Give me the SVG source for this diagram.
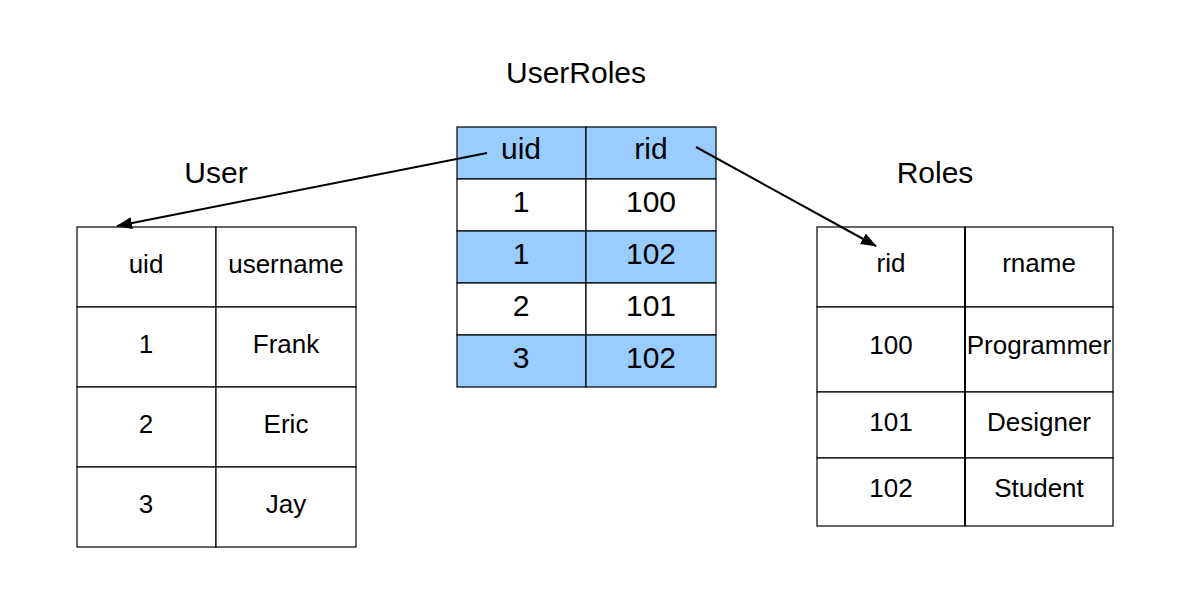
<svg xmlns="http://www.w3.org/2000/svg" width="1183" height="592" viewBox="0 0 1183 592">
<style>
text{font-family:"Liberation Sans",Arial,sans-serif;fill:#000;text-anchor:middle}
.t{font-size:30px}
.c{font-size:26px}
.m{font-size:30px}
.cell{fill:#fff;stroke:#000;stroke-width:1.2}
.hl{fill:#99ccff;stroke:#000;stroke-width:1.2}
.conn{stroke:#000;stroke-width:2;fill:none}
</style>
<defs>
<marker id="arr" markerWidth="16" markerHeight="12" refX="15" refY="6" orient="auto" markerUnits="userSpaceOnUse">
<path d="M0,0 L16,6 L0,12 Z" fill="#000"/>
</marker>
</defs>
<rect width="1183" height="592" fill="#fff"/>

<g id="userroles">
<text class="t" x="576" y="83">UserRoles</text>
<rect class="hl" x="457" y="127" width="129" height="52"/>
<rect class="hl" x="586" y="127" width="130" height="52"/>
<rect class="cell" x="457" y="179" width="129" height="52"/>
<rect class="cell" x="586" y="179" width="130" height="52"/>
<rect class="hl" x="457" y="231" width="129" height="52"/>
<rect class="hl" x="586" y="231" width="130" height="52"/>
<rect class="cell" x="457" y="283" width="129" height="52"/>
<rect class="cell" x="586" y="283" width="130" height="52"/>
<rect class="hl" x="457" y="335" width="129" height="52"/>
<rect class="hl" x="586" y="335" width="130" height="52"/>
<text class="m" x="521" y="159">uid</text>
<text class="m" x="651" y="159">rid</text>
<text class="m" x="521" y="212">1</text>
<text class="m" x="651" y="212">100</text>
<text class="m" x="521" y="264">1</text>
<text class="m" x="651" y="264">102</text>
<text class="m" x="521" y="316">2</text>
<text class="m" x="651" y="316">101</text>
<text class="m" x="521" y="368">3</text>
<text class="m" x="651" y="368">102</text>
</g>

<g id="user">
<text class="t" x="216" y="183">User</text>
<rect class="cell" x="77" y="227" width="139" height="80"/>
<rect class="cell" x="216" y="227" width="140" height="80"/>
<rect class="cell" x="77" y="307" width="139" height="80"/>
<rect class="cell" x="216" y="307" width="140" height="80"/>
<rect class="cell" x="77" y="387" width="139" height="80"/>
<rect class="cell" x="216" y="387" width="140" height="80"/>
<rect class="cell" x="77" y="467" width="139" height="80"/>
<rect class="cell" x="216" y="467" width="140" height="80"/>
<text class="c" x="146" y="273">uid</text>
<text class="c" x="286" y="273">username</text>
<text class="c" x="146" y="353">1</text>
<text class="c" x="286" y="353">Frank</text>
<text class="c" x="146" y="433">2</text>
<text class="c" x="286" y="433">Eric</text>
<text class="c" x="146" y="513">3</text>
<text class="c" x="286" y="513">Jay</text>
</g>

<g id="roles">
<text class="t" x="935" y="183">Roles</text>
<rect class="cell" x="817" y="227" width="148" height="80"/>
<rect class="cell" x="965" y="227" width="148" height="80"/>
<rect class="cell" x="817" y="307" width="148" height="85"/>
<rect class="cell" x="965" y="307" width="148" height="85"/>
<rect class="cell" x="817" y="392" width="148" height="66"/>
<rect class="cell" x="965" y="392" width="148" height="66"/>
<rect class="cell" x="817" y="458" width="148" height="68"/>
<rect class="cell" x="965" y="458" width="148" height="68"/>
<line x1="965" y1="227" x2="965" y2="526" stroke="#000" stroke-width="2"/>
<text class="c" x="891" y="272">rid</text>
<text class="c" x="1039" y="272">rname</text>
<text class="c" x="891" y="354">100</text>
<text class="c" x="1039" y="354">Programmer</text>
<text class="c" x="891" y="431">101</text>
<text class="c" x="1039" y="431">Designer</text>
<text class="c" x="891" y="497">102</text>
<text class="c" x="1039" y="497">Student</text>
</g>

<g id="connectors">
<line class="conn" x1="487" y1="153" x2="117" y2="226" marker-end="url(#arr)"/>
<line class="conn" x1="696" y1="147" x2="876" y2="246" marker-end="url(#arr)"/>
</g>
</svg>
